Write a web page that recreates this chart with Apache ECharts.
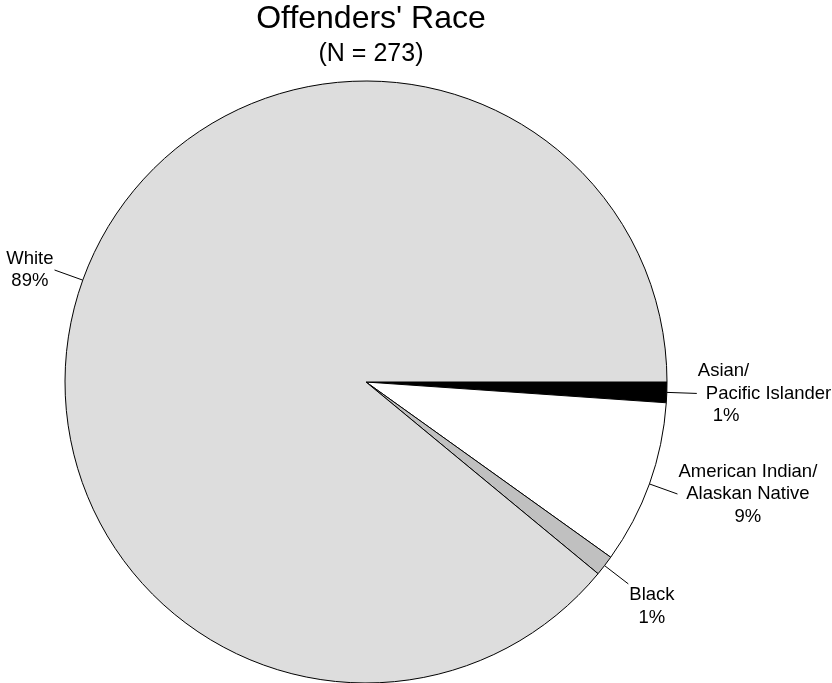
<!DOCTYPE html>
<html>
<head>
<meta charset="utf-8">
<script src="https://cdn.jsdelivr.net/npm/echarts@6/dist/echarts.min.js"></script>
<style>html,body{margin:0;padding:0;background:#fff}#c{width:832px;height:683px}</style>
</head>
<body>
<div id="c"></div>
<script>
const titleText = "Offenders' Race";
const subtitleText = "(N = 273)";
const categories = ['Asian/\nPacific Islander', 'American Indian/\nAlaskan Native', 'Black', 'White'];
const counts = [3, 24, 3, 243];
const percentLabels = ['1%', '9%', '1%', '89%'];
const sliceColors = ['#000000', '#ffffff', '#c0c0c0', '#dddddd'];

const FONT = "'Liberation Sans', Arial, Helvetica, sans-serif";
const LFS = 18.5, LLH = 22.5;

function labelText(i) {
  const lines = categories[i].split('\n').concat([percentLabels[i]]);
  if (i === 0) {
    return lines.map((l, k) => '{a' + k + '|' + l + '}').join('\n');
  }
  return lines.map(l => '{c|' + l + '}').join('\n');
}

const data = categories.map((name, i) => {
  const item = {
    name: name,
    value: counts[i],
    itemStyle: { color: sliceColors[i] },
    label: { formatter: labelText(i) }
  };
  if (i === 2) item.label.padding = [45, 0, 0, 0];
  return item;
});

const base = { fontFamily: FONT, fontSize: LFS, lineHeight: LLH, color: '#000' };

const chart = echarts.init(document.getElementById('c'), null, { renderer: 'canvas' });
chart.setOption({
  animation: false,
  backgroundColor: '#fff',
  title: {
    text: titleText,
    subtext: subtitleText,
    left: 366,
    top: 0,
    padding: [3, 5, 5, 5],
    textAlign: 'center',
    itemGap: 7,
    textStyle: { fontFamily: FONT, fontSize: 32, fontWeight: 'normal', color: '#000' },
    subtextStyle: { fontFamily: FONT, fontSize: 25, color: '#000' }
  },
  series: [{
    type: 'pie',
    center: [366, 382],
    radius: 301,
    startAngle: 0,
    clockwise: true,
    avoidLabelOverlap: false,
    silent: true,
    emphasis: { disabled: true },
    itemStyle: { borderColor: '#000', borderWidth: 1 },
    label: {
      show: true,
      position: 'outside',
      distanceToLabelLine: 1,
      fontFamily: FONT,
      fontSize: LFS,
      lineHeight: LLH,
      color: '#000',
      rich: {
        c: Object.assign({ align: 'center' }, base),
        a0: Object.assign({ align: 'left' }, base),
        a1: Object.assign({ align: 'left', padding: [0, 0, 0, 8] }, base),
        a2: Object.assign({ align: 'left', padding: [0, 0, 0, 15] }, base)
      }
    },
    labelLine: {
      show: true,
      length: 30,
      length2: 0,
      smooth: false,
      lineStyle: { color: '#000', width: 1 }
    },
    data: data
  }]
});
</script>
</body>
</html>
